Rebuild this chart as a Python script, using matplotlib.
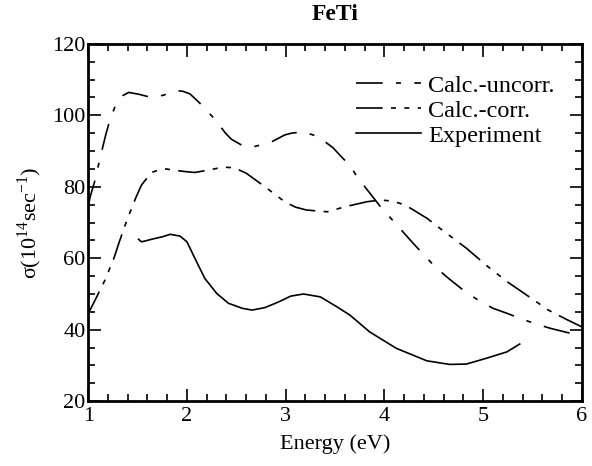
import numpy as np
import matplotlib
matplotlib.use('Agg')
import matplotlib.pyplot as plt
from matplotlib.ticker import MultipleLocator

plt.rcParams['font.family'] = ['Liberation Serif', 'DejaVu Serif']
plt.rcParams['mathtext.fontset'] = 'custom'
plt.rcParams['mathtext.rm'] = 'Liberation Serif'

uncorr_e = [1.00, 1.02, 1.07, 1.10, 1.14, 1.18, 1.22, 1.27, 1.30, 1.35, 1.41, 1.51, 1.61,
            1.69, 1.77, 1.85, 1.90, 1.96, 2.03, 2.13, 2.21, 2.29, 2.39, 2.45, 2.57, 2.66,
            2.79, 2.86, 2.99, 3.06, 3.18, 3.33, 3.48, 3.56, 3.65, 3.73, 3.85, 3.96, 4.11,
            4.28, 4.50, 4.63, 4.82, 4.96, 5.10, 5.24, 5.42, 5.55, 5.68, 5.84, 6.00]
uncorr_s = [74.5, 77.2, 81.9, 85.6, 90.3, 94.8, 98.7, 102.3, 103.8, 105.5, 106.4, 105.9, 105.2,
            105.1, 105.7, 106.4, 106.9, 106.7, 106.0, 103.4, 101.0, 98.7, 95.0, 93.3, 91.4, 91.1,
            92.0, 92.6, 94.5, 95.0, 95.4, 94.0, 90.9, 88.5, 86.0, 82.5, 78.3, 74.4, 69.8,
            64.5, 58.0, 54.8, 50.6, 48.1, 46.0, 44.6, 42.7, 41.5, 40.4, 39.3, 38.3]

corr_e = [0.99, 1.07, 1.17, 1.26, 1.32, 1.39, 1.48, 1.54, 1.64, 1.76, 1.88, 2.00, 2.08,
          2.22, 2.37, 2.48, 2.60, 2.79, 2.99, 3.10, 3.21, 3.42, 3.60, 3.82, 3.96, 4.08,
          4.21, 4.43, 4.58, 4.83, 5.05, 5.25, 5.44, 5.66, 5.85, 6.00]
corr_s = [44.0, 48.3, 53.9, 60.0, 65.0, 70.5, 76.8, 80.5, 84.0, 85.1, 84.6, 84.2, 84.0,
          84.7, 85.5, 85.3, 83.8, 80.0, 75.8, 74.3, 73.5, 73.0, 74.4, 75.8, 76.3, 76.0,
          74.9, 71.2, 68.0, 62.8, 57.6, 53.3, 49.7, 45.5, 42.8, 40.8]

exp_e = [1.51, 1.54, 1.60, 1.64, 1.75, 1.83, 1.93, 2.00, 2.08, 2.18, 2.30, 2.42, 2.56,
         2.66, 2.79, 2.93, 3.05, 3.18, 3.35, 3.52, 3.65, 3.85, 4.12, 4.43, 4.66, 4.83,
         5.03, 5.24, 5.37]
exp_s = [65.3, 64.6, 65.0, 65.3, 66.0, 66.7, 66.2, 64.6, 60.0, 54.4, 50.2, 47.4, 46.0,
         45.5, 46.2, 47.8, 49.4, 50.0, 49.2, 46.4, 44.1, 39.4, 34.8, 31.3, 30.3, 30.4,
         32.0, 33.8, 36.0]


def main():
    fig = plt.figure(figsize=(5.92, 4.66), dpi=100)
    ax = fig.add_axes([0.149, 0.139, 0.834, 0.767])

    ax.plot(uncorr_e, uncorr_s, color='black', lw=1.2, dashes=(16, 8, 3, 8),
            label='Calc.-uncorr.')
    ax.plot(corr_e, corr_s, color='black', lw=1.2, dashes=(16, 5, 3, 5, 3, 5),
            label='Calc.-corr.')
    ax.plot(exp_e, exp_s, color='black', lw=1.2, label='Experiment')

    ax.set_xlim(1, 6)
    ax.set_ylim(20, 120)
    ax.xaxis.set_major_locator(MultipleLocator(1))
    ax.xaxis.set_minor_locator(MultipleLocator(0.2))
    ax.yaxis.set_major_locator(MultipleLocator(20))
    ax.yaxis.set_minor_locator(MultipleLocator(5))
    ax.tick_params(which='both', direction='in', top=True, right=True, labelsize=16, width=1.2)
    ax.tick_params(which='major', length=9, pad=2)
    ax.tick_params(which='minor', length=5)
    ax.tick_params(axis='x', pad=4)
    for sp in ax.spines.values():
        sp.set_linewidth(2)

    ax.set_title('FeTi', fontsize=17, fontweight='bold', pad=17)
    ax.set_xlabel('Energy (eV)', fontsize=16, labelpad=6)
    ax.set_ylabel('σ(10$^{14}$sec$^{-1}$)', fontsize=16, labelpad=6)

    ax.legend(loc='upper right', bbox_to_anchor=(0.965, 0.94), frameon=False, fontsize=17.5,
              handlelength=2.7, handletextpad=0.3, labelspacing=0.12, borderaxespad=0)

    fig.savefig('out.png', dpi=100)


if __name__ == '__main__':
    main()
